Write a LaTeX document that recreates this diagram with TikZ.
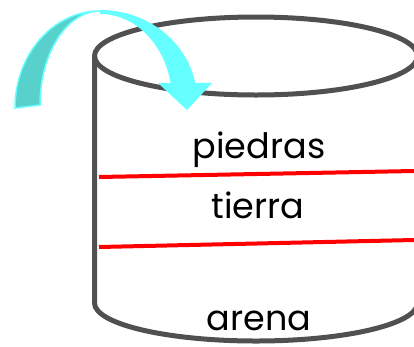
\documentclass[tikz,border=0pt]{standalone}
\usepackage{fontspec}
\setmainfont{Poppins}
\definecolor{wall}{RGB}{80,80,80}
\definecolor{cyanfront}{RGB}{102,255,255}
\definecolor{cyanback}{RGB}{88,208,204}
\tikzset{
  capa/.style={font=\fontsize{35}{40}\selectfont, anchor=base, inner sep=0pt},
  borde/.style={line width=5pt, draw=wall},
  raya/.style={line width=4pt, draw=red}
}
\begin{document}
\begin{tikzpicture}[x=1pt, y=-1pt]
  \useasboundingbox (0,0) rectangle (414,346);
  % cilindro
  \draw[borde] (256,56) ellipse [x radius=161.5, y radius=39];
  \draw[borde] (94.5,56) -- (94.5,303) arc[start angle=180, end angle=0, x radius=161.5, y radius=38] -- (417.5,56);
  % capas
  \draw[raya] (99,177) -- (414,171);
  \draw[raya] (99,247) -- (414,240);
  \node[capa] (piedras) at (259,158) {piedras};
  \node[capa] (tierra) at (258,218) {tierra};
  \node[capa] (arena) at (259,330) {arena};
  % flecha
	\draw[fill=cyanback, draw=cyanfront, line width=1.5pt] (15,108) arc[start angle=180, end angle=270, x radius=85, y radius=97]
    arc[start angle=270, end angle=180, x radius=60, y radius=94] -- cycle;
  \fill[cyanfront] (100,10) arc[start angle=270, end angle=349, x radius=97, y radius=90]
    -- (212,83) -- (187,110) -- (158,83) -- (170.6,83)
    arc[start angle=348.6, end angle=270, x radius=72, y radius=86] -- cycle;
\end{tikzpicture}
\end{document}
